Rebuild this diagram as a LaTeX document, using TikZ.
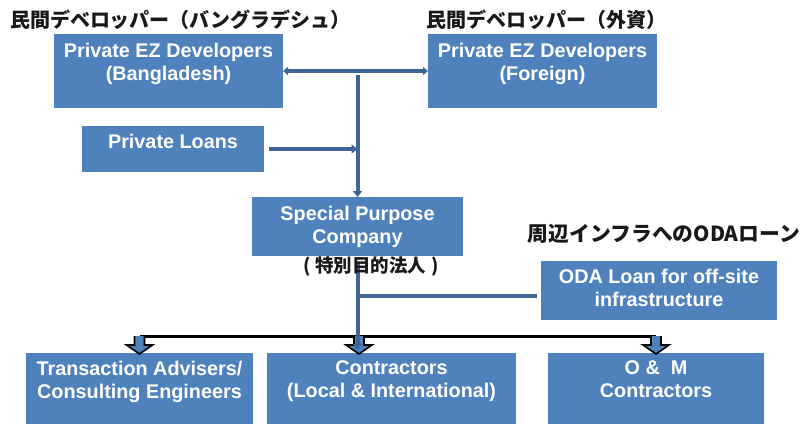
\documentclass[tikz,border=0pt]{standalone}
\usepackage{fontspec}
\setmainfont{Liberation Sans}
\newfontfamily\cjk{Noto Sans CJK JP}
\usetikzlibrary{arrows.meta,calc}
\definecolor{boxblue}{RGB}{79,129,189}
\definecolor{linkblue}{RGB}{63,100,150}
\begin{document}
\begin{tikzpicture}[x=1pt,y=-1pt,
  box/.style={fill=boxblue, inner sep=0pt, outer sep=0pt, anchor=north west},
  btext/.style={text=white, font=\fontsize{19.8}{23}\selectfont\bfseries, align=center, anchor=north, inner sep=0pt},
  jlabel/.style={font=\cjk\bfseries\fontsize{20}{23}\selectfont, text=black!90, inner sep=0pt},
  conn/.style={draw=linkblue, line width=4pt},
  tipsm/.style={-{Triangle[length=6pt,width=9pt]}},
  barrow/.pic={\draw[black, line width=1.6pt, fill=boxblue, line join=miter]
     (-5,0) -- (-5,9) -- (-13,9) -- (0,18) -- (13,9) -- (5,9) -- (5,0);}
]
\useasboundingbox (0,0) rectangle (804,424);

% boxes
\node[box, minimum width=229pt, minimum height=74pt] (dev1) at (54,34) {};
\node[box, minimum width=229pt, minimum height=74pt] (dev2) at (428,34) {};
\node[box, minimum width=182pt, minimum height=46pt] (loans) at (82,126) {};
\node[box, minimum width=211pt, minimum height=59pt] (spc) at (252,197) {};
\node[box, minimum width=236pt, minimum height=59pt] (oda) at (541,261) {};
\node[box, minimum width=227pt, minimum height=71pt] (trans) at (26,353) {};
\node[box, minimum width=249pt, minimum height=71pt] (cont) at (267,353) {};
\node[box, minimum width=216pt, minimum height=71pt] (om) at (548,353) {};

% box texts
\node[btext] (dev1t) at (168.5,42.8) {Private EZ Developers\\(Bangladesh)};
\node[btext] (dev2t) at (542.5,42.8) {Private EZ Developers\\(Foreign)};
\node[btext] (loanst) at (173,133.8) {Private Loans};
\node[btext] (spct) at (357.5,205.8) {Special Purpose\\Company};
\node[btext] (odat) at (659,268.8) {ODA Loan for off-site\\infrastructure};
\node[btext] (transt) at (139.5,360.8) {Transaction Advisers/\\Consulting Engineers};
\node[btext] (contt) at (391.5,360.8) {Contractors\\(Local \& International)};
\node[btext] (omt) at (656,360.8) {O \&\ \ M\\Contractors};

% Japanese labels
\node[jlabel] (dev1l) at (180.5,20) {民間デベロッパー（バングラデシュ）};
\node[jlabel] (dev2l) at (546,20) {民間デベロッパー（外資）};
\node[jlabel, font=\cjk\bfseries\fontsize{20.8}{23}\selectfont] (odal) at (664,234) {周辺インフラへのODAローン};

% upper connectors
\coordinate (jtop) at (357.5,75);
\draw[conn, {Triangle[length=5pt,width=8pt]}-{Triangle[length=5pt,width=8pt]}] (dev1.east) -- (dev2.west);
\draw[conn, tipsm] (jtop) -- (spc.north);
\draw[conn, tipsm] ([xshift=5pt]loans.east) -- (loans.east -| jtop);
\draw[conn] ($(oda.west)+(-4,5.5)$) -- ($(oda.west -| jtop)+(0,5.5)$);

% distribution bar
\coordinate (bl) at (139.5,336);
\coordinate (bm) at (359,336);
\coordinate (br) at (656,336);
\draw[black, line width=3pt] (bl) -- (br);
\pic at (bl) {barrow};
\pic at (bm) {barrow};
\pic at (br) {barrow};

% SPC down to contractors
\draw[conn, tipsm, shorten >=3pt] ($(spc.south)+(0,7)$) -- (spc.south |- cont.north);
\node[jlabel, font=\cjk\bfseries\fontsize{18.5}{22}\selectfont] (spcl) at (371,266) {(\hspace{5pt}特別目的法人\hspace{5pt})};
\end{tikzpicture}
\end{document}
